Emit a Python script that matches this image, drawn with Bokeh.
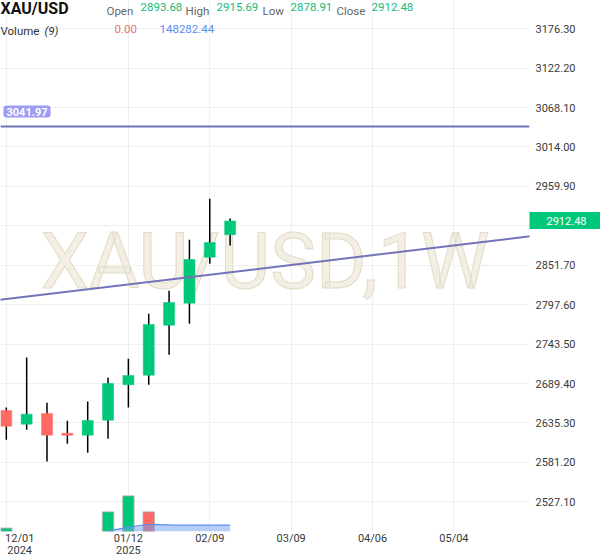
from bokeh.plotting import figure
from bokeh.models import (Range1d, FixedTicker, Label, Span, PrintfTickFormatter, ColumnDataSource,
                          LinearAxis, DatetimeAxis)
from bokeh.embed import file_html
from bokeh.resources import INLINE
import pandas as pd

# ---------------- data ----------------
symbol = "XAU/USD"
interval = "1W"
weeks = ['2024-12-01', '2024-12-08', '2024-12-15', '2024-12-22', '2024-12-29', '2025-01-05',
         '2025-01-12', '2025-01-19', '2025-01-26', '2025-02-02', '2025-02-09', '2025-02-16']
opens = [2652.4, 2633.6, 2648.3, 2621.2, 2618.5, 2639.1, 2687.7, 2700.8, 2769.4, 2799.6, 2862.8, 2893.68]
highs = [2656.5, 2725.1, 2663.0, 2638.3, 2664.7, 2697.7, 2723.3, 2785.1, 2816.7, 2886.6, 2942.9, 2915.69]
lows = [2612.2, 2625.9, 2582.4, 2606.7, 2594.3, 2613.6, 2656.5, 2687.7, 2728.8, 2771.4, 2853.7, 2878.91]
closes = [2630.8, 2647.3, 2618.5, 2618.5, 2638.7, 2689.4, 2700.4, 2770.4, 2800.6, 2859.6, 2882.9, 2912.48]

volumes = [78000, 0, 0, 0, 0, 459000, 836000, 459000, 0, 0, 0, 0]
volume_up = [True, True, True, True, True, True, True, False, True, True, True, True]

vol_ma_weeks = ['2025-01-05', '2025-01-12', '2025-01-19', '2025-01-26', '2025-02-02', '2025-02-09', '2025-02-16']
vol_ma = [10000, 106000, 170000, 158000, 150000, 148300, 148282.44]
vol_ma_period = 9
last_volume = 0.00

hline_price = 3041.97
trend_weeks = ['2024-11-24', '2025-06-01']
trend_prices = [2801.9, 2892.3]

price_ticks = [2527.10, 2581.20, 2635.30, 2689.40, 2743.50, 2797.60, 2851.70, 2905.80,
               2959.90, 3014.00, 3068.10, 3122.20, 3176.30]
date_ticks = ['2024-12-01', '2025-01-12', '2025-02-09', '2025-03-09', '2025-04-06', '2025-05-04']
date_tick_labels = ['12/01', '01/12', '02/09', '03/09', '04/06', '05/04']
year_labels = ['2024', '2025']

x_start, x_end = '2024-11-29', '2025-05-30'
y_start, y_end = 2486.3, 3215.0

# ---------------- styling ----------------
GREEN = "#00c87a"
RED = "#ff6b64"
FONT = "Roboto"
AX = "#3a3a3a"

DAY = 24 * 3600 * 1000
WEEK = 7 * DAY

def ms(d):
    return int(pd.Timestamp(d).timestamp() * 1000)

# the first date label sits right of its grid line (kept inside the chart edge)
label_pos = [ms(d) for d in date_ticks]
label_pos[0] += int(4.6 * DAY)

xs = [pd.Timestamp(d) for d in weeks]
up = [c >= o for o, c in zip(opens, closes)]
src = ColumnDataSource(dict(
    x=xs, open=opens, high=highs, low=lows, close=closes,
    top=[max(o, c) for o, c in zip(opens, closes)],
    bottom=[min(o, c) for o, c in zip(opens, closes)],
    color=[GREEN if u else RED for u in up],
))
vsrc = ColumnDataSource(dict(
    x=[x for x, v in zip(xs, volumes) if v > 0],
    v=[v for v in volumes if v > 0],
    color=[GREEN if u else RED for u, v in zip(volume_up, volumes) if v > 0],
))
masrc = ColumnDataSource(dict(x=[pd.Timestamp(d) for d in vol_ma_weeks], v=vol_ma, z=[0] * len(vol_ma)))

p = figure(frame_width=529, frame_height=531, x_axis_type="datetime", y_axis_location="right",
           toolbar_location=None, output_backend="svg",
           x_range=Range1d(pd.Timestamp(x_start), pd.Timestamp(x_end)),
           y_range=Range1d(y_start, y_end),
           min_border=0, min_border_right=71, min_border_bottom=27)
p.outline_line_color = None
p.background_fill_color = "white"
p.border_fill_color = "white"

p.extra_y_ranges = {"vol": Range1d(0, 12_500_000)}

def style_axis(a, standoff):
    a.axis_line_color = None
    a.major_tick_line_color = None
    a.minor_tick_line_color = None
    a.major_tick_out = 0
    a.major_tick_in = 0
    a.minor_tick_out = 0
    a.minor_tick_in = 0
    a.major_label_standoff = standoff
    a.major_label_text_font = FONT
    a.major_label_text_font_size = "11px"
    a.major_label_text_color = AX

# price axis; the last price is marked by a thick green minor tick (the badge)
last = closes[-1]
BADGE_W = 71
ya = p.yaxis[0]
ya.ticker = FixedTicker(ticks=[t for t in price_ticks if abs(t - last) > 14], minor_ticks=[last])
ya.formatter = PrintfTickFormatter(format="%.2f")
style_axis(ya, 6 - BADGE_W)
ya.minor_tick_line_color = GREEN
ya.minor_tick_line_width = 17
ya.minor_tick_in = 0
ya.minor_tick_out = BADGE_W

# white last price text on the badge
ba = LinearAxis(ticker=FixedTicker(ticks=[last]), formatter=PrintfTickFormatter(format="%.2f"))
style_axis(ba, -32)
ba.major_label_text_color = "white"
p.add_layout(ba, "right")

# date axis
xa = p.xaxis[0]
xa.ticker = FixedTicker(ticks=label_pos)
xa.major_label_overrides = {t: lab for t, lab in zip(label_pos, date_tick_labels)}
style_axis(xa, 0)

# year axis
yra = DatetimeAxis(ticker=FixedTicker(ticks=label_pos[:2]))
yra.major_label_overrides = {t: lab for t, lab in zip(label_pos[:2], year_labels)}
style_axis(yra, -2)
p.add_layout(yra, "below")

p.xgrid.ticker = FixedTicker(ticks=[ms(d) for d in date_ticks])
p.ygrid.ticker = FixedTicker(ticks=price_ticks)
p.xgrid.grid_line_color = "#efefef"
p.ygrid.grid_line_color = "#efefef"

# watermark
p.add_layout(Label(x=264.5, y=270, x_units="screen", y_units="screen", text=f"{symbol},{interval}",
                   text_align="center", text_baseline="middle", text_font=FONT, text_font_size="77px",
                   text_color="#f3efe4", text_outline_color="#e2dbc7", level="underlay"))

# volume
p.vbar(x="x", top="v", bottom=0, width=0.54 * WEEK, fill_color="color", line_color="#9a9a9a",
       line_alpha=0.6, line_width=1.5, y_range_name="vol", source=vsrc)
p.varea(x="x", y1="z", y2="v", fill_color="#6f9ff0", fill_alpha=0.5, y_range_name="vol", source=masrc)
p.line(x="x", y="v", line_color="#5b8def", line_width=1.2, y_range_name="vol", source=masrc)

# candles
p.segment(x0="x", y0="high", x1="x", y1="low", line_color="black", line_width=1.5, source=src)
p.vbar(x="x", top="top", bottom="bottom", width=0.54 * WEEK, fill_color="color", line_color="color",
       line_width=0.5, source=src)

# drawings
p.add_layout(Span(location=hline_price, dimension="width", line_color="#7373b9", line_width=2))
p.line(x=[pd.Timestamp(d) for d in trend_weeks], y=trend_prices, line_color="#7373b9", line_width=2)

p.add_layout(Label(x=3, y=hline_price, x_units="screen", y_units="data", y_offset=15,
                   text=f"{hline_price:.2f}", text_align="left", text_baseline="middle",
                   text_font=FONT, text_font_size="11px", text_font_style="bold", text_color="white",
                   background_fill_color="#9d9cf3", padding=(3, 2), border_radius=3))

# header
H = 531
def hdr(x, cy, text, color, size="11.5px", style="normal"):
    p.add_layout(Label(x=x, y=H - cy, x_units="screen", y_units="screen", text=text,
                       text_align="left", text_baseline="middle", text_font=FONT,
                       text_font_size=size, text_font_style=style, text_color=color))

hdr(0, 7.5, symbol, "#111111", "16px", "bold")
hdr(106, 10, "Open", "#666666")
hdr(140, 6.5, f"{opens[-1]:.2f}", "#16b97b")
hdr(185, 10, "High", "#666666")
hdr(216, 6.5, f"{highs[-1]:.2f}", "#16b97b")
hdr(262, 10, "Low", "#666666")
hdr(290, 6.5, f"{lows[-1]:.2f}", "#16b97b")
hdr(336, 10, "Close", "#666666")
hdr(371, 6.5, f"{closes[-1]:.2f}", "#16b97b")
hdr(0, 30.5, "Volume", "#333333")
hdr(44, 30.5, f"({vol_ma_period})", "#333333", style="italic")
hdr(114, 28, f"{last_volume:.2f}", "#e57373")
hdr(159, 28, f"{vol_ma[-1]:.2f}", "#5b8def")

open("out.html", "w").write(file_html(p, INLINE))
